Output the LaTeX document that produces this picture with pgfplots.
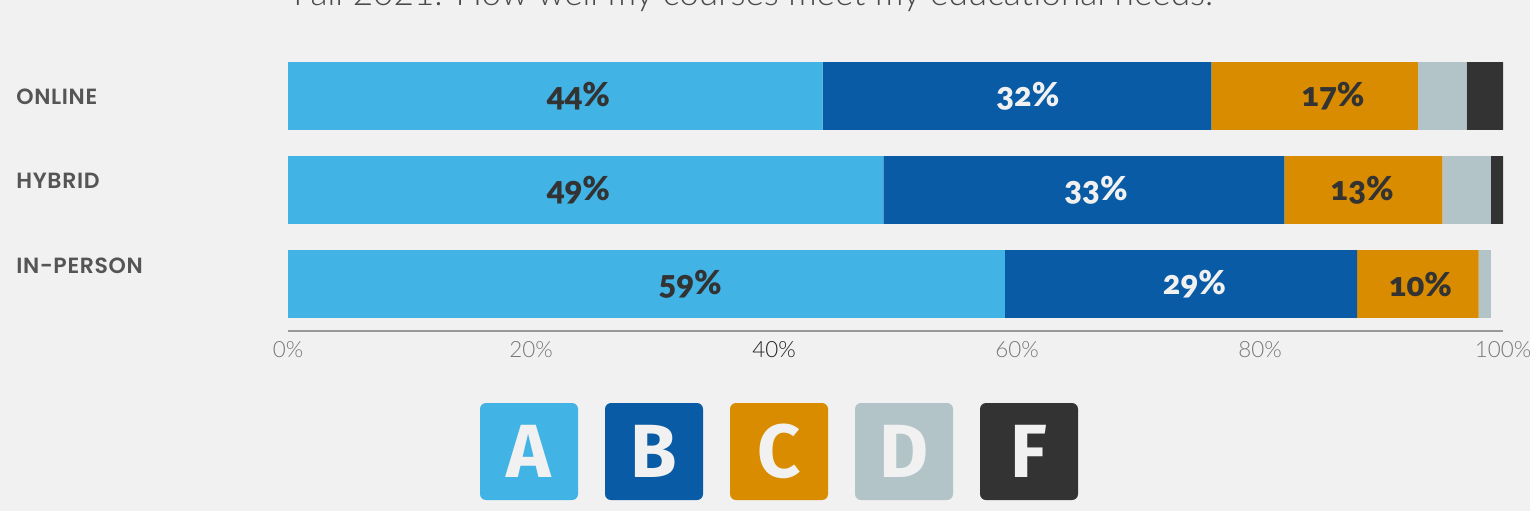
\documentclass[border=0pt]{standalone}
\usepackage{pgfplots}
\pgfplotsset{compat=1.18}
\usepackage{pgfplotstable}
\usepackage{fontspec}
\setmainfont{Lato}
\newfontfamily\lightfont{Lato}[UprightFont={* Light}]
\newfontfamily\heavyfont{Lato}[UprightFont={* Black}, Numbers=OldStyle]
\newfontfamily\catfont{Poppins}[UprightFont={* SemiBold}, LetterSpace=3]
\newfontfamily\gradefont{Fira Sans}[UprightFont={* Bold}]

\definecolor{bg}{HTML}{F1F1F1}
\definecolor{gA}{HTML}{41B3E4}
\definecolor{gB}{HTML}{085BA4}
\definecolor{gC}{HTML}{D98C00}
\definecolor{gD}{HTML}{B3C4C8}
\definecolor{gF}{HTML}{333333}
\definecolor{titlegray}{HTML}{4A4A4A}
\definecolor{catgray}{HTML}{555555}
\definecolor{tickgray}{HTML}{777777}
\definecolor{darktick}{HTML}{222222}
\definecolor{axisgray}{HTML}{999999}

% share of students per grade; 0 = in-person, 1 = hybrid, 2 = online
\pgfplotstableread{
cat A B C D F
0 59 29 10 1 0
1 49 33 13 4 1
2 44 32 17 4 3
}\grades

% percent labels, where they sit on the bars
\pgfplotstableread{
x y v
23.9 2 44
86.0 2 17
23.9 1 49
88.4 1 13
33.1 0 59
93.2 0 10
}\darklabels
\pgfplotstableread{
x y v
60.9 2 32
66.5 1 33
74.6 0 29
}\lightlabels

\pgfplotsset{
  base/.style={
    at={(144pt,-165.5pt)}, anchor=south west,
    scale only axis, width=607.5pt, height=141pt,
    xmin=0, xmax=100, ymin=-0.5, ymax=2.5,
    /pgf/number format/assume math mode=true,
  },
  pct/.style={
    only marks, mark=none, point meta=explicit symbolic,
    nodes near coords={\pgfplotspointmeta\%},
    nodes near coords align=center,
    every node near coord/.append style={anchor=center, inner sep=0pt,
      font=\heavyfont\fontsize{16.5}{16.5}\selectfont, text=#1},
  },
}

\begin{document}
\begin{tikzpicture}[x=1pt,y=1pt]
\fill[bg] (0,0) rectangle (765,-255.5);
\path[use as bounding box] (0,0) rectangle (765,-255.5);

\node[anchor=base west, inner sep=0, text=titlegray,
  font=\lightfont\fontsize{17.6}{17.6}\selectfont] at (146.5,-2.5)
  {Fall 2021: How well my courses meet my educational needs.};

\begin{axis}[base,
  xbar stacked, bar width=0.723,
  axis x line*=bottom, axis y line=none,
  x axis line style={draw=axisgray, line width=1pt},
  xtick={0,20,40,60,80,100},
  xticklabels={0\%,20\%,{\color{darktick}40\%},60\%,80\%,100\%},
  xtick style={draw=none}, ytick=\empty,
  xticklabel style={font=\lightfont\fontsize{11.2}{12}\selectfont,
    text=tickgray, inner sep=0pt, yshift=-5pt},
]
\addplot[fill=gA, draw=none] table[x=A, y=cat] {\grades};
\addplot[fill=gB, draw=none] table[x=B, y=cat] {\grades};
\addplot[fill=gC, draw=none] table[x=C, y=cat] {\grades};
\addplot[fill=gD, draw=none] table[x=D, y=cat] {\grades};
\addplot[fill=gF, draw=none] table[x=F, y=cat] {\grades};
\end{axis}

\begin{axis}[base, hide axis]
\addplot[pct=gF] table[x=x, y=y, meta=v] {\darklabels};
\addplot[pct=bg] table[x=x, y=y, meta=v] {\lightlabels};
\end{axis}

\foreach \y/\t in {-48.5/ONLINE, -90.5/HYBRID, -133/IN-PERSON}
  \node[anchor=west, inner sep=0, text=catgray,
    font=\catfont\fontsize{11}{12}\selectfont] at (8,\y) {\t};

\foreach \c/\l [count=\i from 0] in {gA/A, gB/B, gC/C, gD/D, gF/F}
  \node[fill=\c, rounded corners=3pt, minimum width=49pt, minimum height=48.5pt,
    inner sep=0, text=bg, font=\gradefont\fontsize{37.7}{38}\selectfont]
    at (264.5+62.5*\i, -225.75) {\l};
\end{tikzpicture}
\end{document}
